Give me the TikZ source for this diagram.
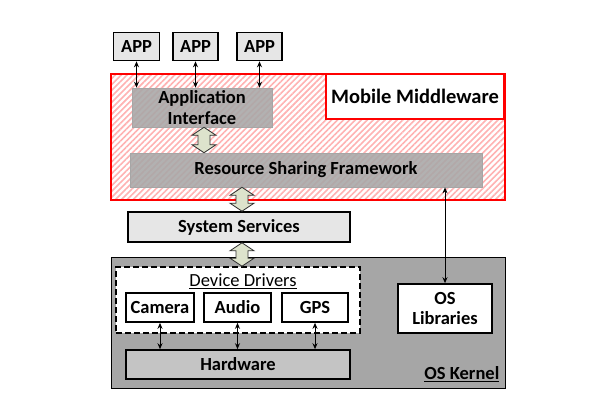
\documentclass[tikz,border=0pt]{standalone}
\usepackage{fontspec}
\setmainfont{Carlito}
\usetikzlibrary{arrows.meta,patterns.meta,calc}

\definecolor{boxgray}{RGB}{230,230,230}
\definecolor{midgray}{RGB}{170,168,168}
\definecolor{kernelgray}{RGB}{166,166,166}
\definecolor{hwgray}{RGB}{196,196,196}
\definecolor{fatgreen}{RGB}{221,227,204}

\def\txtSize{\fontsize{18.5}{20.5}\selectfont}
\tikzset{
  layer/.style={draw,line width=1.6pt,fill=boxgray,inner sep=0pt,
    font=\bfseries\txtSize,align=center},
  inner/.style={draw=gray!70,line width=0.6pt,fill=midgray,fill opacity=0.9,
    text opacity=1,inner sep=0pt,font=\bfseries\txtSize,align=center},
  link/.style={{Stealth[length=6pt,width=5pt]}-{Stealth[length=6pt,width=5pt]},line width=1pt},
  fatarrow/.style={draw=black!80,line width=0.8pt,fill=fatgreen}
}
% vertical block arrow between two points (top first)
\newcommand{\fatArrow}[2]{
  \draw[fatarrow] let \p1=(#1), \p2=(#2) in
    (\x1,\y1) -- (\x1+12pt,\y1-8pt) -- (\x1+6pt,\y1-8pt) -- (\x1+6pt,\y2+8pt)
    -- (\x1+12pt,\y2+8pt) -- (\x1,\y2) -- (\x1-12pt,\y2+8pt) -- (\x1-6pt,\y2+8pt)
    -- (\x1-6pt,\y1-8pt) -- (\x1-12pt,\y1-8pt) -- cycle;
}

\begin{document}
\begin{tikzpicture}[x=1pt,y=-1pt]
  \useasboundingbox (0,0) rectangle (597,410);

  % applications
  \node[layer,minimum width=46pt,minimum height=28pt] (app1) at (136.5,46.5) {APP};
  \node[layer,minimum width=45pt,minimum height=28pt] (app2) at (195.5,46.5) {APP};
  \node[layer,minimum width=45pt,minimum height=28pt] (app3) at (259.5,46.5) {APP};

  % middleware
  \node[draw=red,line width=1.6pt,pattern={Lines[angle=45,distance=4.2pt,line width=1.6pt]},
    pattern color=red!30,minimum width=394pt,minimum height=126pt,inner sep=0pt]
    (mw) at (308,137) {};
  \node[draw=red,line width=1.6pt,fill=white,minimum width=178pt,minimum height=45pt,
    inner sep=0pt,font=\bfseries\fontsize{20.5}{22}\selectfont] (mwlabel) at (415,96.5) {Mobile Middleware};
  \node[inner,minimum width=140pt,minimum height=39pt] (api) at (202,107.5) {Application\\Interface};
  \node[inner,minimum width=352pt,minimum height=34pt] (rsf) at (306,170) {Resource Sharing Framework};

  % system services
  \node[layer,minimum width=222pt,minimum height=30pt] (sys) at (239,227) {System Services};

  % kernel
  \node[draw,line width=1pt,fill=kernelgray,minimum width=394pt,minimum height=131pt,inner sep=0pt]
    (kernel) at (308,322.5) {};
  \node[font=\bfseries\txtSize,anchor=south east,inner sep=0pt] (kernellabel)
    at ($(kernel.south east)+(-6,-7)$) {\underline{OS Kernel}};
  \node[draw,dashed,line width=1.6pt,fill=white,minimum width=244pt,minimum height=66pt,
    inner sep=0pt,dash pattern=on 6pt off 3pt] (drivers) at (238,300) {};
  \node[font=\txtSize,inner sep=0pt] (driverslabel) at (243,281) {\underline{Device Drivers}};
  \node[layer,fill=white,minimum width=68pt,minimum height=29pt] (camera) at (160,307.5) {Camera};
  \node[layer,fill=white,minimum width=67pt,minimum height=29pt] (audio) at (237.5,307.5) {Audio};
  \node[layer,fill=white,minimum width=66pt,minimum height=29pt] (gps) at (315,307.5) {GPS};
  \node[layer,fill=white,minimum width=94pt,minimum height=49pt] (oslib) at (445,308.5) {OS\\Libraries};
  \node[layer,fill=hwgray,minimum width=224pt,minimum height=29pt] (hw) at (238,364.5) {Hardware};

  % connectors
  \draw[link] (app1.south) -- (app1.south |- api.north);
  \draw[link] (app2.south) -- (app2.south |- api.north);
  \draw[link] (app3.south) -- (app3.south |- api.north);
  \draw[link] (oslib.north |- rsf.south) -- (oslib.north);
  \draw[link] (camera.south) -- (camera.south |- hw.north);
  \draw[link] (audio.south) -- (audio.south |- hw.north);
  \draw[link] (gps.south) -- (gps.south |- hw.north);

  \fatArrow{$(api.south)+(2,0)$}{$(api.south |- rsf.north)+(2,0)$}
  \fatArrow{$(sys.north |- rsf.south)+(3,0)$}{$(sys.north)+(3,0)$}
  \fatArrow{$(sys.south)+(3,0)$}{$(sys.south |- drivers.north)+(3,0)$}
\end{tikzpicture}
\end{document}
